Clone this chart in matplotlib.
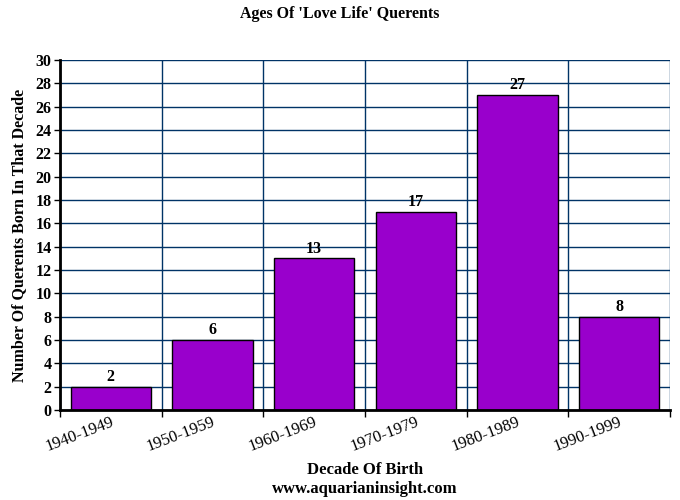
import matplotlib
matplotlib.use("Agg")
import matplotlib.pyplot as plt
import numpy as np

categories = ["1940-1949", "1950-1959", "1960-1969", "1970-1979", "1980-1989", "1990-1999"]
values = [2, 6, 13, 17, 27, 8]
yticks = list(range(0, 31, 2))

plt.rcParams['font.family'] = ['Liberation Serif', 'DejaVu Serif']

fig = plt.figure(figsize=(6.8, 5.0), dpi=100)
ax = fig.add_axes([60/680, 90/500, 610/680, 350/500])

x = np.arange(len(categories))
bars = ax.bar(x, values, width=0.79, color="#9900CC", edgecolor="black", linewidth=1.0, zorder=3)
for xi, v in zip(x, values):
    ax.text(xi, v + 0.15, str(v), ha="center", va="bottom", fontsize=11.5, fontweight="bold", zorder=4)

ax.set_xlim(-0.5, len(categories) - 0.5)
ax.set_ylim(0, 30)
ax.set_yticks(yticks)
ax.set_yticklabels([str(t) for t in yticks], fontsize=11.5, fontweight="bold")

ax.set_xticks(np.arange(len(categories) + 1) - 0.5)
ax.set_xticklabels([])
label_shift = 0.05
ax.set_xticks(x + label_shift, minor=True)
ax.set_xticklabels(categories, minor=True, rotation=21, fontsize=12, ha="right")
ax.tick_params(axis="x", which="minor", length=0, pad=3)
ax.tick_params(axis="x", which="major", length=5, width=1, color="black", direction="out")
ax.tick_params(axis="y", length=4, width=1, direction="out", pad=2)

grid_c = "#003366"
ax.grid(True, axis="y", color=grid_c, linewidth=1.0, zorder=0)
ax.grid(True, axis="x", which="major", color=grid_c, linewidth=1.0, zorder=0)
ax.grid(False, axis="x", which="minor")

for s in ["top", "right"]:
    ax.spines[s].set_visible(False)
ax.spines["left"].set_linewidth(2)
ax.spines["bottom"].set_linewidth(2)
ax.spines["left"].set_zorder(5)
ax.spines["bottom"].set_zorder(5)

ax.set_ylabel("Number Of Querents Born In That Decade", fontsize=11.5, fontweight="bold", labelpad=6)
ax.set_xlabel("Decade Of Birth\nwww.aquarianinsight.com", fontsize=12, fontweight="bold", labelpad=5, linespacing=1.25)
fig.text(0.5, 1 - 14/500, "Ages Of 'Love Life' Querents", ha="center", va="center", fontsize=11.5, fontweight="bold")

fig.savefig("out.png", dpi=100)
